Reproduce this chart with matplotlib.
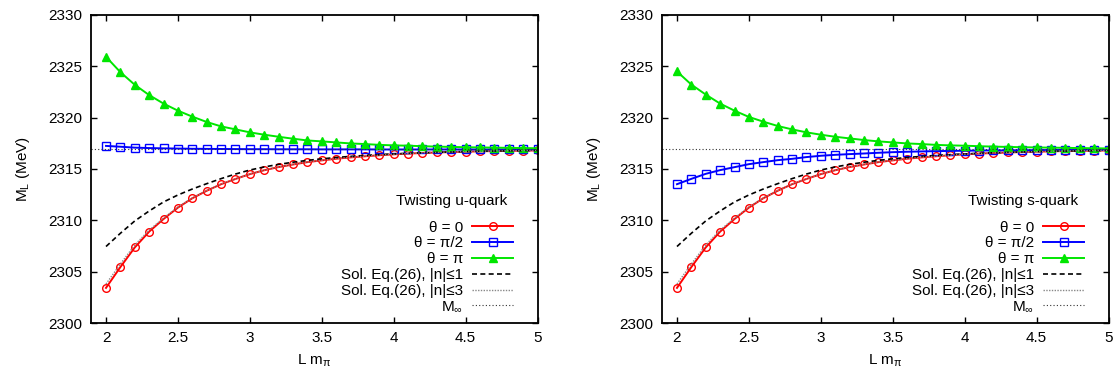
import matplotlib.pyplot as plt
import numpy as np

plt.rcParams['font.family'] = ['Liberation Sans', 'DejaVu Sans']
plt.rcParams['mathtext.default'] = 'regular'
plt.rcParams['font.size'] = 11

# L m_pi, 31 points from 2 to 5
x = [2.0, 2.1, 2.2, 2.3, 2.4, 2.5, 2.6, 2.7, 2.8, 2.9, 3.0,
     3.1, 3.2, 3.3, 3.4, 3.5, 3.6, 3.7, 3.8, 3.9, 4.0,
     4.1, 4.2, 4.3, 4.4, 4.5, 4.6, 4.7, 4.8, 4.9, 5.0]

m_inf = 2316.9

# theta = 0 (same in both panels)
theta0 = [2303.42, 2305.45, 2307.36, 2308.90, 2310.13, 2311.24, 2312.15, 2312.88, 2313.52, 2314.03, 2314.50,
          2314.88, 2315.19, 2315.44, 2315.67, 2315.84, 2316.00, 2316.13, 2316.24, 2316.34, 2316.43,
          2316.50, 2316.56, 2316.61, 2316.65, 2316.69, 2316.72, 2316.75, 2316.77, 2316.79, 2316.81]

# twisting u-quark
u_half = [2317.25, 2317.17, 2317.08, 2317.04, 2317.01, 2316.99, 2316.97, 2316.96, 2316.95, 2316.94, 2316.93,
          2316.93, 2316.92, 2316.92, 2316.92, 2316.91, 2316.91, 2316.91, 2316.91, 2316.90, 2316.90,
          2316.90, 2316.90, 2316.90, 2316.90, 2316.90, 2316.90, 2316.90, 2316.90, 2316.90, 2316.90]
u_pi = [2325.93, 2324.43, 2323.20, 2322.20, 2321.37, 2320.68, 2320.10, 2319.58, 2319.15, 2318.86, 2318.57,
        2318.34, 2318.14, 2317.95, 2317.78, 2317.69, 2317.59, 2317.49, 2317.43, 2317.35, 2317.30,
        2317.27, 2317.22, 2317.18, 2317.15, 2317.12, 2317.10, 2317.08, 2317.06, 2317.04, 2317.02]

# twisting s-quark
s_half = [2313.52, 2314.04, 2314.53, 2314.89, 2315.18, 2315.47, 2315.67, 2315.86, 2315.99, 2316.16, 2316.29,
          2316.38, 2316.45, 2316.51, 2316.58, 2316.64, 2316.68, 2316.71, 2316.74, 2316.76, 2316.78,
          2316.80, 2316.81, 2316.82, 2316.83, 2316.84, 2316.85, 2316.86, 2316.86, 2316.87, 2316.87]
s_pi = [2324.50, 2323.22, 2322.25, 2321.37, 2320.68, 2320.07, 2319.61, 2319.19, 2318.86, 2318.57, 2318.34,
        2318.14, 2317.98, 2317.82, 2317.69, 2317.59, 2317.49, 2317.43, 2317.35, 2317.30, 2317.27,
        2317.22, 2317.18, 2317.15, 2317.12, 2317.10, 2317.08, 2317.06, 2317.04, 2317.02, 2317.00]

# solutions of Eq.(26)
sol_n1 = [2307.45, 2308.74, 2309.94, 2310.91, 2311.79, 2312.47, 2313.05, 2313.57, 2314.06, 2314.51, 2314.90,
          2315.20, 2315.45, 2315.66, 2315.84, 2315.99, 2316.12, 2316.23, 2316.32, 2316.40, 2316.47,
          2316.53, 2316.58, 2316.62, 2316.66, 2316.70, 2316.73, 2316.75, 2316.77, 2316.79, 2316.81]
sol_n3 = [2303.80, 2305.75, 2307.60, 2309.05, 2310.22, 2311.30, 2312.18, 2312.90, 2313.53, 2314.04, 2314.51,
          2314.89, 2315.20, 2315.45, 2315.68, 2315.85, 2316.01, 2316.14, 2316.25, 2316.35, 2316.44,
          2316.51, 2316.57, 2316.62, 2316.66, 2316.70, 2316.73, 2316.76, 2316.78, 2316.80, 2316.82]

panels = [('Twisting u-quark', u_half, u_pi), ('Twisting s-quark', s_half, s_pi)]
lefts = [0.0818, 0.5948]

red = '#ff0000'
blue = '#0000ff'
green = '#00e600'

fig = plt.figure(figsize=(11.13, 3.72), dpi=100)
for (title, half, pi_vals), left in zip(panels, lefts):
    ax = fig.add_axes([left, 0.1317, 0.4012, 0.828])
    ax.plot(x, theta0, color=red, lw=1.4, marker='o', ms=5.5, mfc='none', mew=1.0, label='θ = 0')
    ax.plot(x, half, color=blue, lw=1.4, marker='s', ms=5.5, mfc='none', mew=1.0, label='θ = π/2')
    ax.plot(x, pi_vals, color=green, lw=1.4, marker='^', ms=5.5, mfc=green, mew=1.0, label='θ = π')
    ax.plot(x, sol_n1, color='black', lw=1.2, ls=(0, (3, 2)), label='Sol. Eq.(26), |n|≤1')
    ax.plot(x, sol_n3, color='#888888', lw=1.0, ls=(0, (1, 1)), label='Sol. Eq.(26), |n|≤3')
    ax.axhline(m_inf, color='#333333', lw=0.8, ls=(0, (1, 2)), label=r'M$_\infty$')

    ax.set_xlim(1.896, 5)
    ax.set_ylim(2300, 2330)
    ax.set_xticks([2, 2.5, 3, 3.5, 4, 4.5, 5])
    ax.set_xticklabels(['2', '2.5', '3', '3.5', '4', '4.5', '5'])
    ax.set_yticks(np.arange(2300, 2331, 5))
    ax.tick_params(direction='in', top=True, right=True, length=4, width=1, pad=6, labelsize=11)
    for sp in ax.spines.values():
        sp.set_linewidth(1.3)
    ax.set_xlabel(r'L m$_\pi$', labelpad=5)
    ax.set_ylabel(r'M$_L$ (MeV)', labelpad=12)

    ax.text(0.931, 0.396, title, transform=ax.transAxes, ha='right', va='center', fontsize=11)
    ax.legend(loc='lower right', bbox_to_anchor=(0.946, 0.029), frameon=False, markerfirst=False,
              numpoints=1, handlelength=2.7, handletextpad=0.6, labelspacing=0.12,
              borderpad=0, borderaxespad=0, fontsize=11)

plt.savefig('out.png', dpi=100)
